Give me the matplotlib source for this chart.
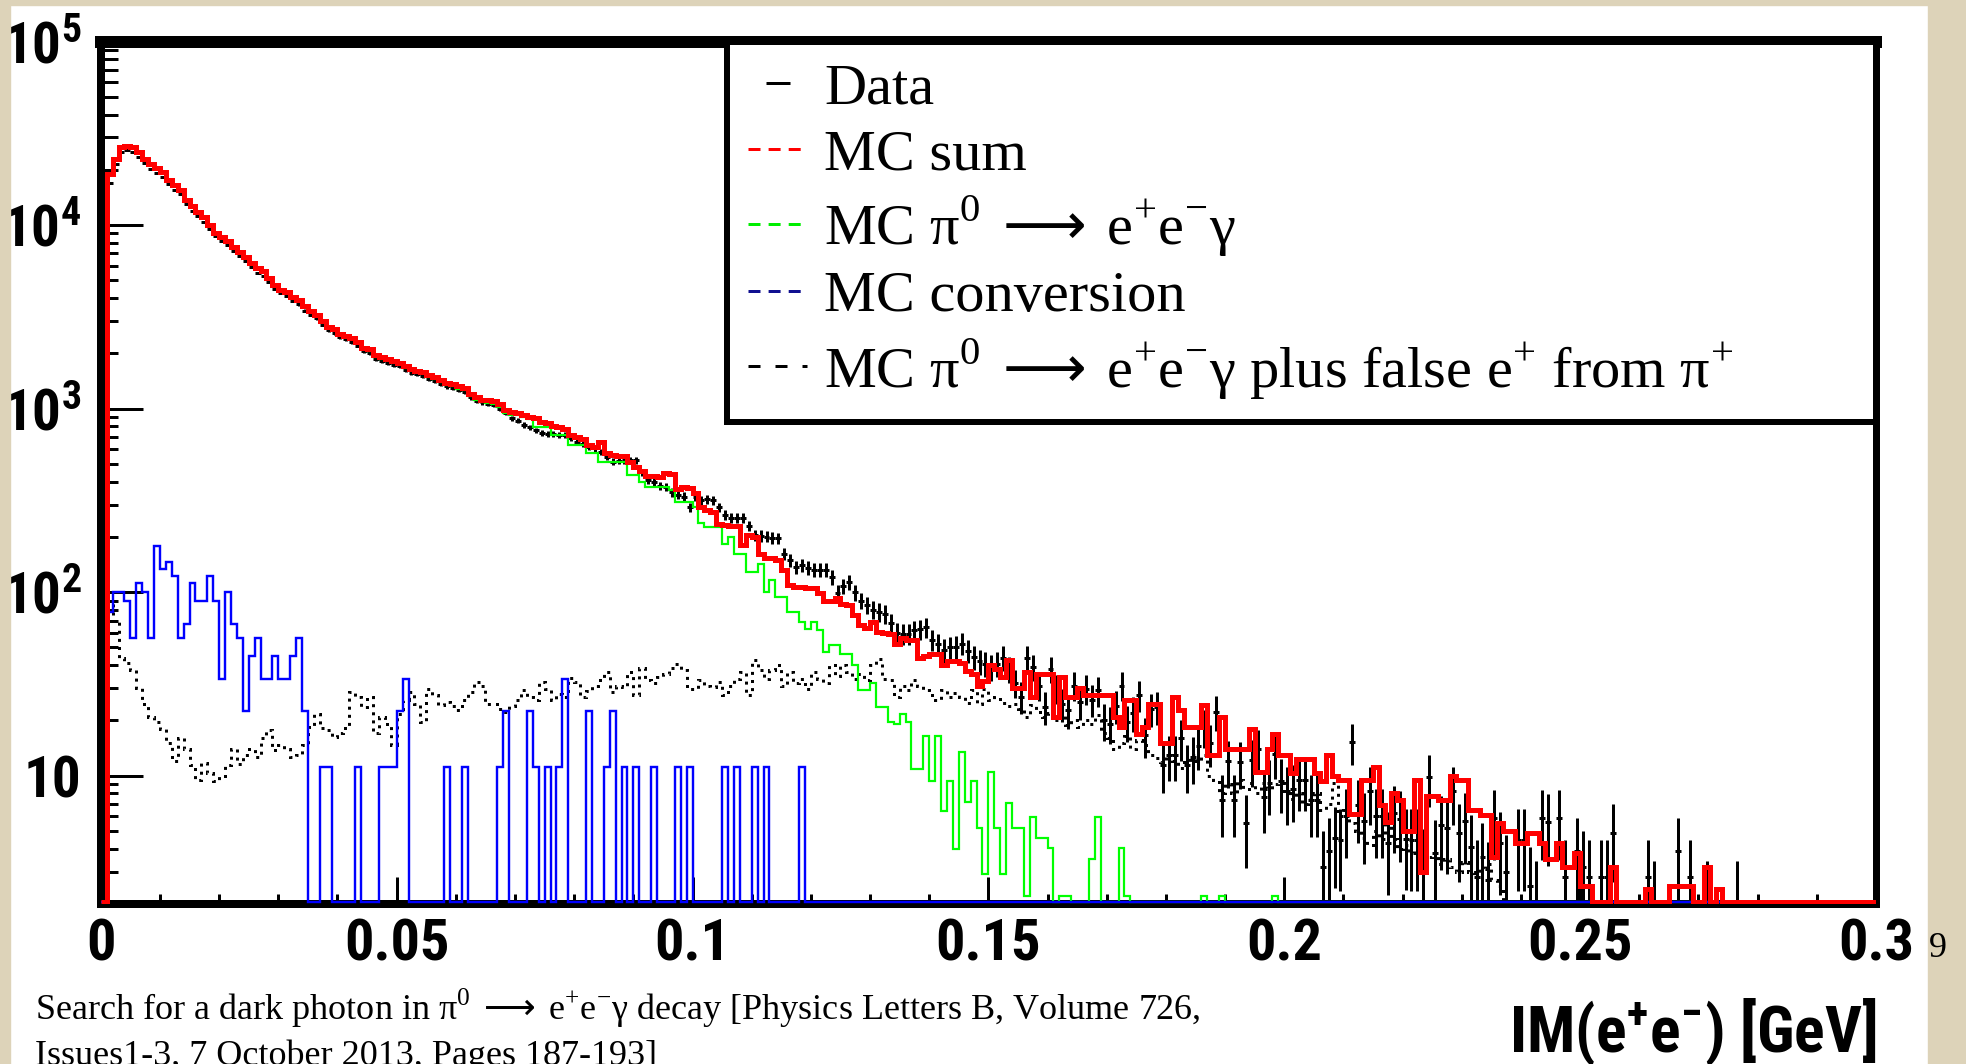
import numpy as np
import matplotlib

matplotlib.use("Agg")
import matplotlib.pyplot as plt
from matplotlib import font_manager
from matplotlib.font_manager import FontProperties
from matplotlib.lines import Line2D
from matplotlib.patches import Rectangle
from matplotlib.ticker import LogLocator, MultipleLocator, NullFormatter

W, H, DPI = 1966, 1064, 100
PX = 72 / DPI  # points per pixel

# 300 bins of 1 MeV between 0 and 0.3 GeV
edges = np.linspace(0.0, 0.3, 301)

# MC sum (red)
mc_sum = [
    0, 19000, 23000, 26500, 27000, 26500, 25000, 23000, 21500, 20500,
    19400, 17700, 16500, 15500, 13700, 12700, 11800, 11000, 10000, 9100,
    8600, 8200, 7600, 7100, 6700, 6200, 5800, 5600, 5170, 4700,
    4450, 4300, 4050, 3900, 3600, 3400, 3250, 3000, 2800, 2700,
    2550, 2500, 2420, 2300, 2150, 2100, 1950, 1900, 1860, 1820,
    1780, 1700, 1650, 1610, 1590, 1520, 1480, 1430, 1380, 1360,
    1320, 1290, 1200, 1150, 1120, 1110, 1100, 1060, 980, 960,
    950, 920, 900, 890, 850, 840, 800, 790, 770, 720,
    700, 680, 630, 620, 660, 570, 560, 555, 550, 510,
    480, 460, 430, 430, 425, 445, 440, 365, 375, 370,
    345, 290, 280, 275, 235, 233, 230, 228, 180, 205,
    200, 162, 153, 153, 150, 132, 110, 107, 107, 106,
    105, 99, 90, 90, 93, 86, 85, 75, 66, 64,
    69, 61, 60, 59, 52, 56, 55, 55, 44, 45,
    46, 46, 40, 42, 42, 41, 37, 36, 31, 33,
    40, 38, 34.5, 42.6, 30, 30, 36.7, 26.9, 36, 36,
    36, 20.9, 34.5, 26.9, 26.9, 30, 27.5, 27.5, 27.5, 27.5,
    27.5, 20.9, 18.5, 25.8, 25.8, 16.9, 18.5, 24.7, 24.7, 15,
    15, 26.9, 22.7, 18.5, 18.5, 18.5, 24.2, 12.9, 12.9, 20.9,
    14, 14, 14, 14, 18, 10.5, 10.5, 14, 16.9, 12.9,
    12.9, 10.3, 12.4, 12.4, 12.4, 10.3, 9.3, 12.9, 10, 9.5,
    9.5, 6.2, 6.2, 9.5, 9.5, 11.1, 6.9, 5.6, 8, 7.4,
    5, 5, 9.5, 3, 7.8, 7.8, 7.4, 7.4, 10, 9.5,
    9.5, 6.5, 6.5, 6.1, 6.1, 3.6, 5.5, 5, 5, 4.3,
    4.3, 4.9, 4.9, 4.3, 3.5, 3.5, 4.3, 3.2, 3.2, 3.8,
    2.5, 2.5, 0, 0, 0, 3.2, 0, 0, 0, 0,
    0, 2.4, 0, 0, 0, 2.5, 2.5, 2.5, 2.5, 0,
    0, 3.2, 0, 2.4, 0, 0, 0, 0, 0, 0,
    0, 0, 0, 0, 0, 0, 0, 0, 0, 0,
    0, 0, 0, 0, 0, 0, 0, 0, 0, 0,
]

# Data (black points, Poisson errors)
data = [
    0, 17000, 21500, 25000, 25500, 25000, 23500, 21800, 20300, 19300,
    18300, 16800, 15600, 14700, 13000, 12000, 11200, 10400, 9500, 8700,
    8150, 7800, 7200, 6750, 6350, 5900, 5500, 5300, 4900, 4480,
    4250, 4100, 3850, 3700, 3420, 3250, 3100, 2860, 2680, 2580,
    2440, 2380, 2300, 2200, 2050, 2000, 1860, 1820, 1780, 1730,
    1700, 1620, 1570, 1540, 1510, 1450, 1410, 1370, 1320, 1300,
    1260, 1230, 1150, 1100, 1080, 1060, 1050, 1000, 950, 885,
    860, 813, 790, 760, 733, 730, 725, 720, 718, 690,
    660, 640, 620, 607, 580, 545, 513, 520, 525, 523,
    523, 450, 407, 400, 380, 375, 350, 340, 331, 290,
    330, 317, 320, 317, 290, 263, 253, 255, 253, 230,
    205, 203, 201, 198, 197, 162, 150, 137, 140, 136,
    132, 132, 132, 121, 99, 108, 114, 100, 90, 85,
    80, 78, 76, 68, 60, 59.5, 59.5, 62, 63, 64.5,
    55, 52, 48.3, 50, 50.4, 52.5, 48, 44.4, 42, 40.8,
    39, 40.8, 44, 38, 32, 27, 44, 39, 31, 23.7,
    38, 30, 24.7, 22.7, 31, 25.2, 29.8, 26, 29.2, 20,
    19.2, 24, 31, 19.6, 22, 27.5, 16.6, 23.2, 23.7, 11.4,
    12.9, 12.9, 16, 11.4, 12.6, 14.6, 18.4, 15, 22.3, 7.35,
    12, 7.35, 11.9, 5.5, 12.2, 14, 7.66, 9.1, 13.2, 9.3,
    8.3, 8.5, 9.5, 9.5, 7.35, 7.35, 3.2, 3.9, 4.6, 4.45,
    6, 15.3, 6.9, 5.7, 8.3, 6, 6, 4.3, 6.3, 5.8,
    4.5, 4.45, 4.45, 3.3, 9.85, 3.77, 5.4, 5.2, 8.3, 4.85,
    5.7, 4.1, 2.8, 3.6, 2.7, 5.9, 4.3, 3, 0, 4.45,
    4.45, 2.5, 2, 5.9, 5.6, 0, 5.9, 2.8, 0, 3.9,
    3.2, 2.8, 0, 2.8, 2.8, 4.85, 0, 0, 0, 0,
    0, 2.8, 2, 0, 0, 0, 3.9, 0, 2.8, 0,
    0, 2, 0, 0, 0, 0, 2, 0, 0, 0,
    0, 0, 0, 0, 0, 0, 0, 0, 0, 0,
    0, 0, 0, 0, 0, 0, 0, 0, 0, 0,
]

# MC pi0 -> e+e-gamma (green)
mc_dalitz = [
    0, 18850, 22800, 26300, 26800, 26300, 24800, 22800, 21300, 20300,
    19200, 17500, 16350, 15350, 13560, 12570, 11680, 10880, 9890, 9000,
    8520, 8110, 7520, 7030, 6640, 6140, 5740, 5540, 5120, 4650,
    4400, 4250, 4000, 3850, 3560, 3370, 3220, 2970, 2770, 2670,
    2520, 2470, 2390, 2270, 2120, 2070, 1920, 1870, 1830, 1790,
    1745, 1665, 1615, 1575, 1555, 1485, 1445, 1395, 1345, 1325,
    1285, 1255, 1165, 1115, 1085, 1075, 1065, 1025, 945, 925,
    925, 900, 880, 795, 795, 795, 718, 718, 718, 630,
    630, 630, 570, 570, 513, 513, 513, 513, 513, 434,
    434, 400, 375, 375, 375, 375, 360, 311, 311, 311,
    292, 237, 227, 227, 227, 184, 200, 162, 162, 129,
    129, 143, 100, 116, 94.5, 94.5, 78, 78, 69, 63,
    69, 62, 47, 51.6, 51.6, 46.3, 46.3, 40, 29.3, 29.3,
    31.8, 23.7, 23.7, 19.6, 19.2, 21.8, 19.6, 10.9, 10.9, 16.4,
    9.4, 16.4, 6.4, 9.4, 4.0, 13.5, 7.2, 9.4, 5.2, 2.9,
    10.5, 5.2, 2.9, 7.1, 5.2, 5.2, 2.2, 5.95, 4.6, 4.6,
    4.06, 0, 2.2, 2.2, 0, 0, 0, 3.5, 5.95, 0,
    0, 0, 4.06, 2.2, 0, 0, 0, 0, 0, 0,
    0, 0, 0, 0, 0, 0, 2.2, 0, 0, 2.2,
    0, 0, 0, 0, 0, 0, 0, 0, 2.2, 0,
] + [0] * 100

# MC conversion (blue): MC events per bin and the event weight
conv_events = [
    0, 7, 9, 9, 8, 5, 10, 9, 5, 16,
    12, 13, 11, 5, 6, 10, 8, 8, 11, 8,
    3, 9, 6, 5, 2, 4, 5, 3, 3, 4,
    3, 3, 4, 5, 2, 0, 0, 1, 1, 0,
    0, 0, 0, 1, 0, 0, 0, 1, 1, 1,
    2, 3, 0, 0, 0, 0, 0, 0, 1, 0,
    0, 1, 0, 0, 0, 0, 0, 1, 2, 0,
    0, 0, 2, 1, 0, 1, 0, 1, 3, 0,
    0, 0, 2, 0, 0, 1, 2, 0, 1, 0,
    1, 0, 0, 1, 0, 0, 0, 1, 0, 1,
    0, 0, 0, 0, 0, 1, 0, 1, 0, 0,
    1, 0, 1, 0, 0, 0, 0, 0, 1, 0,
] + [0] * 180
conv_weight = 11.2

# MC pi0 -> e+e-gamma plus false e+ from pi+ (black dotted)
mc_false = [
    0, 90, 70, 44, 41, 37.6, 30, 24.7, 21, 19.6,
    18, 15, 12, 16, 14, 11.4, 9.5, 11.7, 10.3, 9.3,
    10, 11.4, 14, 11.6, 13, 14, 12.6, 16, 17.7, 13.8,
    14.7, 14, 12.6, 12.9, 14.7, 18.4, 21.8, 18.1, 17.7, 16.3,
    17, 18.1, 28.6, 26.9, 23.7, 26.9, 17, 20.9, 19.2, 14.7,
    21.8, 25.8, 28.6, 24.7, 19.6, 29.8, 27.5, 24.2, 25.2, 24,
    22.7, 26, 28.6, 32.4, 31, 24.7, 24.7, 23, 22.3, 24,
    25.8, 29.2, 27, 25.8, 32.4, 29.8, 25.8, 28, 26.9, 34,
    32.4, 26.9, 29, 31, 33.1, 36.7, 28.6, 31, 30.5, 36.7,
    27.5, 38.4, 33.1, 31.9, 34.5, 35.9, 38.4, 40.8, 37.6, 29.8,
    29.8, 33.1, 31, 30.5, 32.4, 27.5, 31, 33.8, 36.7, 27.5,
    42.6, 37.6, 33.8, 37.6, 40, 31, 36.7, 31.9, 33.8, 29.8,
    36.7, 33.8, 31.9, 40, 35, 40, 36.7, 33.8, 36, 33.1,
    40, 43.4, 33.8, 33.1, 26.9, 31, 29.2, 33.1, 31, 29.2,
    27.5, 26, 29.2, 26.9, 28.1, 27, 25, 29.2, 24.7, 29.8,
    25.8, 26.9, 25, 24, 24.7, 23.2, 21, 24.2, 22.3, 21,
    22, 20, 21.5, 19, 20, 18.5, 20, 19.2, 21.4, 17,
    16, 14, 15, 16.5, 14, 15.6, 14.7, 13, 12.5, 11.9,
    13, 12, 11, 11.9, 13, 12, 12.9, 10, 9.5, 8.1,
    9, 8.1, 9.5, 8.5, 9.1, 8, 9.1, 8.5, 9, 9.1,
    8, 7.5, 8, 7, 7.5, 8, 6.5, 7, 9.1, 6,
    6.5, 5.5, 5, 4.6, 4.2, 5, 4.5, 5.7, 4.5, 4,
    4.2, 3.8, 4, 3.5, 3.6, 3.8, 3.3, 3.5, 3.2, 3,
    3.4, 3, 2.8, 3.1, 3.3, 2.7, 2.5, 0, 0, 0,
] + [0] * 60

x_ticks = [0, 0.05, 0.1, 0.15, 0.2, 0.25, 0.3]
x_tick_labels = ["0", "0.05", "0.1", "0.15", "0.2", "0.25", "0.3"]
y_ticks = [10, 100, 1000, 10000, 100000]
y_tick_labels = ["10", r"$\mathregular{10^{2}}$", r"$\mathregular{10^{3}}$",
                 r"$\mathregular{10^{4}}$", r"$\mathregular{10^{5}}$"]

DECAY = (r"π$^{\mathregular{0}}\,\longrightarrow\,$"
         r"e$^{\mathregular{+}}$e$^{\mathregular{-}}$γ")
labels = [
    "Data",
    "MC sum",
    "MC " + DECAY,
    "MC conversion",
    "MC " + DECAY + " plus false e$^{\\mathregular{+}}$ from π$^{\\mathregular{+}}$",
]
caption = [
    "Search for a dark photon in " + DECAY + " decay [Physics Letters B, Volume 726,",
    "Issues1-3, 7 October 2013, Pages 187-193]",
]
page_number = "9"
x_title = r"$\mathregular{IM(e^{+}e^{-})}$ [GeV]"

YMIN, YMAX = 2.0, 1e5
FLOOR = 2.06  # empty bins are drawn on the lower frame, like ROOT does


def condensed_bold():
    """Path of an installed narrow bold sans font, or None."""
    order = ["Liberation Sans Narrow", "Arial Narrow", "Nimbus Sans Narrow",
             "Roboto Condensed", "Noto Sans", "Open Sans", "DejaVu Sans", "Roboto"]
    narrow = ("condensed", "semi-condensed", "extra-condensed", "ultra-condensed")
    for name in order:
        for f in font_manager.fontManager.ttflist:
            is_narrow = "Narrow" in f.name or "Condensed" in f.name or f.stretch in narrow
            w = f.weight if isinstance(f.weight, int) else {"bold": 700}.get(f.weight, 400)
            if f.name.startswith(name) and is_narrow and f.style == "normal" and 600 <= w <= 750:
                return f.fname
    return None


narrow_path = condensed_bold()
if narrow_path:
    tick_fp = FontProperties(fname=narrow_path, size=42)
    title_fp = FontProperties(fname=narrow_path, size=46)
    ytick_fp = FontProperties(fname=narrow_path, size=41)
else:
    tick_fp = FontProperties(family="Liberation Sans", weight="bold", size=37)
    title_fp = FontProperties(family="Liberation Sans", weight="bold", size=40)
    ytick_fp = FontProperties(family="Liberation Sans", weight="bold", size=34)
SERIF = FontProperties(family="Liberation Serif", size=42)

fig = plt.figure(figsize=(W / DPI, H / DPI), dpi=DPI, facecolor="white")
BEIGE = "#ddd3b9"
for x, y, w, h in [(0, 0, 10, H), (0, 0, W, 5), (1928, 0, W - 1928, H)]:
    fig.patches.append(
        Rectangle((x / W, 1 - (y + h) / H), w / W, h / H,
                  transform=fig.transFigure, color=BEIGE, zorder=0)
    )

ax = fig.add_axes([100.8 / W, 1 - 904 / H, (1876 - 100.8) / W, (904 - 41.5) / H])
ax.set_facecolor("white")

mc_sum = np.asarray(mc_sum, float)
data = np.asarray(data, float)
mc_dalitz = np.asarray(mc_dalitz, float)
mc_conv = np.asarray(conv_events, float) * conv_weight
mc_false = np.asarray(mc_false, float)
centers = 0.5 * (edges[:-1] + edges[1:])

mask = data > 0
ax.errorbar(centers[mask], data[mask], yerr=np.sqrt(data[mask]), xerr=0.0005,
            fmt="none", ecolor="black", elinewidth=3 * PX, capsize=0, zorder=3)
ax.stairs(np.maximum(mc_false, FLOOR), edges, baseline=None, color="black",
          lw=3 * PX, linestyle=(0, (1, 1.7)), zorder=4)
ax.stairs(np.maximum(mc_dalitz, FLOOR), edges, baseline=None, color="#00ff00",
          lw=2.2 * PX, zorder=5)
ax.stairs(np.maximum(mc_conv, FLOOR), edges, baseline=None, color="#0000ff",
          lw=2.4 * PX, zorder=6)
ax.stairs(np.maximum(mc_sum, FLOOR), edges, baseline=None, color="#ff0000",
          lw=5 * PX, zorder=7)

ax.set_xlim(0, 0.3)
ax.set_yscale("log")
ax.set_ylim(YMIN, YMAX)

ax.set_xticks(x_ticks, x_tick_labels, fontproperties=tick_fp)
ax.xaxis.set_minor_locator(MultipleLocator(0.01))
ax.set_yticks(y_ticks, y_tick_labels, fontproperties=ytick_fp)
ax.yaxis.set_minor_locator(LogLocator(base=10, subs=np.arange(2, 10), numticks=12))
ax.yaxis.set_minor_formatter(NullFormatter())

ax.tick_params(which="both", direction="in", top=False, right=False, width=3 * PX,
               colors="black")
ax.tick_params(axis="y", which="major", length=42 * PX, pad=14)
ax.tick_params(axis="y", which="minor", length=17 * PX)
ax.tick_params(axis="x", which="major", length=27 * PX, pad=10)
ax.tick_params(axis="x", which="minor", length=10 * PX)

for side, lw in [("left", 8), ("bottom", 8), ("top", 12), ("right", 7)]:
    ax.spines[side].set_linewidth(lw * PX)
    ax.spines[side].set_color("black")

handles = [
    Line2D([], [], color="black", marker="_", markersize=24 * PX, markeredgewidth=3 * PX,
           linestyle="none"),
    Line2D([], [], color="#ff0000", lw=3 * PX, linestyle=(0, (4, 2.7))),
    Line2D([], [], color="#00ee00", lw=3 * PX, linestyle=(0, (4, 2.7))),
    Line2D([], [], color="#101090", lw=3 * PX, linestyle=(0, (4, 2.7))),
    Line2D([], [], color="black", lw=3 * PX, linestyle=(0, (4, 5))),
]
leg = ax.legend(handles, labels, loc="upper left", mode="expand",
                bbox_to_anchor=(0.3527, 0.4, 0.6473, 0.6), borderaxespad=0,
                prop=SERIF, handlelength=1.0, handletextpad=0.3, borderpad=0.37,
                labelspacing=0.21, fancybox=False, framealpha=1, edgecolor="black")
leg.get_frame().set_linewidth(6 * PX)
leg.set_zorder(20)

fig.text(1876 / W, 1 - 1052 / H, x_title, ha="right", va="baseline",
         fontproperties=title_fp)

cap_fp = FontProperties(family="Liberation Serif", size=26)
fig.text(35 / W, 1 - 1020 / H, caption[0], ha="left", va="baseline", fontproperties=cap_fp)
fig.text(35 / W, 1 - 1065 / H, caption[1], ha="left", va="baseline", fontproperties=cap_fp)
fig.text(1929 / W, 1 - 957 / H, page_number, ha="left", va="baseline",
         fontproperties=FontProperties(family="Liberation Serif", size=26))

fig.savefig("out.png", dpi=DPI, facecolor=fig.get_facecolor())
